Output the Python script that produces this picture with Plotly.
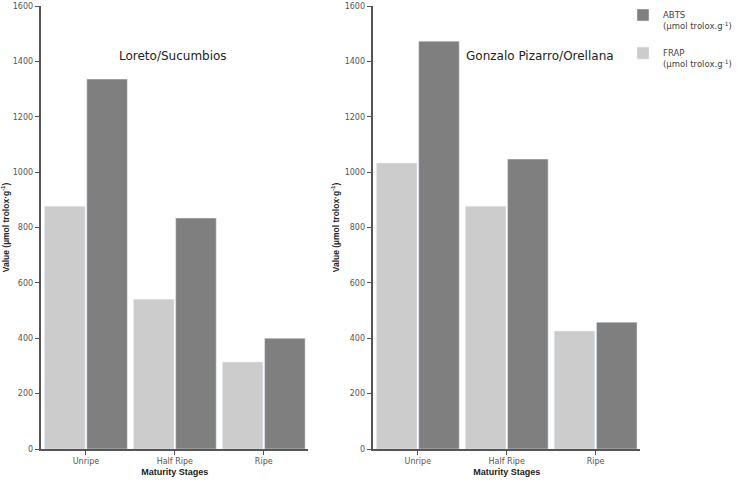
import plotly.graph_objects as go

stages = ["Unripe", "Half Ripe", "Ripe"]
loreto_frap = [877, 541, 314]
loreto_abts = [1336, 834, 400]
gonzalo_frap = [1033, 877, 426]
gonzalo_abts = [1473, 1047, 458]
y_ticks = [0, 200, 400, 600, 800, 1000, 1200, 1400, 1600]

W, H = 737, 481
FRAP_COLOR = "#cccccc"
ABTS_COLOR = "#7f7f7f"
FONT = "DejaVu Sans"
BOLD = "Liberation Sans"
unit = "(µmol trolox.g<sup>-1</sup>)"

fig = go.Figure()
fig.add_trace(go.Bar(x=stages, y=loreto_frap, name="FRAP<br>" + unit, marker=dict(color=FRAP_COLOR),
                     xaxis="x", yaxis="y", legendgroup="frap", legendrank=2, showlegend=True))
fig.add_trace(go.Bar(x=stages, y=loreto_abts, name="ABTS<br>" + unit, marker=dict(color=ABTS_COLOR),
                     xaxis="x", yaxis="y", legendgroup="abts", legendrank=1, showlegend=True))
fig.add_trace(go.Bar(x=stages, y=gonzalo_frap, name="FRAP<br>" + unit, marker=dict(color=FRAP_COLOR),
                     xaxis="x2", yaxis="y2", legendgroup="frap", legendrank=2, showlegend=False))
fig.add_trace(go.Bar(x=stages, y=gonzalo_abts, name="ABTS<br>" + unit, marker=dict(color=ABTS_COLOR),
                     xaxis="x2", yaxis="y2", legendgroup="abts", legendrank=1, showlegend=False))

ybot = (H - 449) / H
ytop = (H - 6) / H

def xax(d0, d1, anchor):
    return dict(domain=[d0 / W, d1 / W], anchor=anchor, range=[-0.5, 2.5],
                showline=True, linecolor="#555555", linewidth=1.5,
                ticks="outside", ticklen=4, tickcolor="#555555",
                tickfont=dict(family=FONT, size=8, color="#555555"),
                title=dict(text="<b>Maturity Stages</b>", font=dict(family=BOLD, size=9, color="#222222"), standoff=3),
                automargin=False,
                showgrid=False, zeroline=False, fixedrange=True)

def yax(anchor):
    return dict(domain=[ybot, ytop], anchor=anchor, range=[0, 1600],
                tickvals=y_ticks, showline=True, linecolor="#555555", linewidth=1.5,
                ticks="outside", ticklen=5, tickcolor="#555555",
                tickfont=dict(family=FONT, size=8, color="#555555"),
                title=dict(text="<b>Value (µmol trolox·g<sup>-1</sup>)</b>",
                           font=dict(family=BOLD, size=8.5, color="#222222"), standoff=4),
                automargin=False,
                showgrid=False, zeroline=False, fixedrange=True)

fig.update_layout(
    width=W, height=H,
    margin=dict(l=0, r=0, t=0, b=0),
    paper_bgcolor="white", plot_bgcolor="white",
    barmode="group", bargap=0.05, bargroupgap=0.04,
    font=dict(family=FONT, color="#333333"),
    xaxis=xax(42, 312, "y"),
    yaxis=yax("x"),
    xaxis2=xax(378, 648, "y2"),
    yaxis2=yax("x2"),
    legend=dict(x=631 / W, y=1 - 3 / H, xanchor="left", yanchor="top",
                traceorder="grouped", valign="top",
                font=dict(family=FONT, size=8.5, color="#444444"),
                bgcolor="rgba(0,0,0,0)", itemclick=False, itemdoubleclick=False,
                tracegroupgap=13),
    annotations=[
        dict(text="Loreto/Sucumbios", x=175 / W, y=1 - 56 / H, xref="paper", yref="paper",
             showarrow=False, font=dict(family=FONT, size=12, color="#222222"), xanchor="center", yanchor="middle"),
        dict(text="Gonzalo Pizarro/Orellana", x=547 / W, y=1 - 56 / H, xref="paper", yref="paper",
             showarrow=False, font=dict(family=FONT, size=12, color="#222222"), xanchor="center", yanchor="middle"),
    ],
)

fig.write_html("out.html", config={"displayModeBar": False},
               post_script="document.body.style.margin='0';document.body.style.overflow='hidden';")
